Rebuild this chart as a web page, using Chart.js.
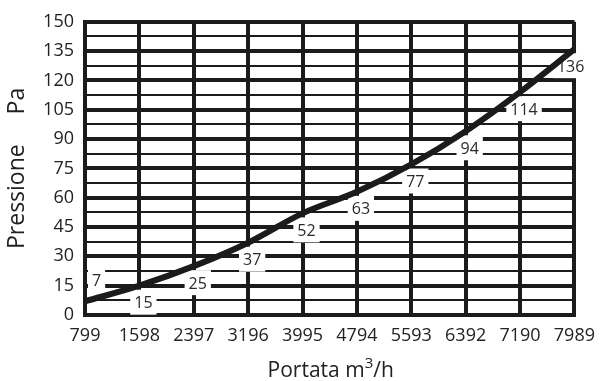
<!DOCTYPE html>
<html>
<head>
<meta charset="utf-8">
<script src="https://cdn.jsdelivr.net/npm/chart.js@4.4.1/dist/chart.umd.min.js"></script>
<style>
  html, body { margin: 0; padding: 0; background: #ffffff; }
  #wrap { width: 605px; height: 381px; position: relative; }
</style>
</head>
<body>
<div id="wrap"><canvas id="chart"></canvas></div>
<script>
// Flow rate categories (m3/h) and measured pressure (Pa)
const flowLabels = ['799', '1598', '2397', '3196', '3995', '4794', '5593', '6392', '7190', '7989'];
const pressureValues = [7, 15, 25, 37, 52, 63, 77, 94, 114, 136];
// Labelled pressure ticks; the half steps in between only get a thin grid line
const pressureTicks = [0, 15, 30, 45, 60, 75, 90, 105, 120, 135, 150];

const INK = '#1b1b1b';
const FONT = '"Open Sans", "Liberation Sans", sans-serif';

// White boxed value labels placed just below each point
const valueLabels = {
  id: 'valueLabels',
  beforeDatasetsDraw(chart) {
    const { ctx, chartArea } = chart;
    const meta = chart.getDatasetMeta(0);
    ctx.save();
    ctx.font = '16px ' + FONT;
    ctx.textAlign = 'center';
    ctx.textBaseline = 'middle';
    meta.data.forEach((pt, i) => {
      const text = String(pressureValues[i]);
      const w = ctx.measureText(text).width + 8;
      let cx = pt.x + 4;
      let cy = pt.y + 18;
      if (cy > chartArea.bottom - 8) cy = pt.y - 20;
      cx = Math.max(cx, chartArea.left + 3 + w / 2);
      cx = Math.min(cx, chartArea.right + 14 - w / 2);
      ctx.fillStyle = '#ffffff';
      ctx.fillRect(cx - w / 2, cy - 14, w, 25);
      ctx.fillStyle = '#2a2a2a';
      ctx.fillText(text, cx, cy);
    });
    ctx.restore();
  }
};

// X axis title with a raised exponent: "Portata m³/h"
const flowTitle = {
  id: 'flowTitle',
  afterDraw(chart) {
    const { ctx, chartArea } = chart;
    const parts = [
      { t: 'Portata m', size: 21, rise: 0 },
      { t: '3', size: 15, rise: 9 },
      { t: '/h', size: 21, rise: 0 }
    ];
    ctx.save();
    ctx.fillStyle = '#222222';
    ctx.textBaseline = 'alphabetic';
    ctx.textAlign = 'left';
    let total = 0;
    parts.forEach(p => { ctx.font = p.size + 'px ' + FONT; p.w = ctx.measureText(p.t).width; total += p.w; });
    let x = (chartArea.left + chartArea.right) / 2 + 1 - total / 2;
    const base = 376.5;
    parts.forEach(p => {
      ctx.font = p.size + 'px ' + FONT;
      ctx.fillText(p.t, x, base - p.rise);
      x += p.w;
    });
    ctx.restore();
  }
};

new Chart(document.getElementById('chart'), {
  type: 'line',
  data: {
    labels: flowLabels,
    datasets: [{
      data: pressureValues,
      borderColor: INK,
      borderWidth: 6,
      pointRadius: 0,
      pointHoverRadius: 0,
      cubicInterpolationMode: 'monotone',
      fill: false
    }]
  },
  options: {
    responsive: true,
    maintainAspectRatio: false,
    devicePixelRatio: 1,
    animation: false,
    events: [],
    layout: { padding: { left: 0, right: 21, top: 19, bottom: 0 } },
    plugins: {
      legend: { display: false },
      tooltip: { enabled: false }
    },
    scales: {
      x: {
        type: 'category',
        offset: false,
        afterFit(scale) { scale.height = 66; },
        grid: { color: INK, lineWidth: 4, drawTicks: false },
        border: { display: true, color: INK, width: 4 },
        ticks: {
          autoSkip: false,
          maxRotation: 0,
          padding: 10,
          color: '#222222',
          font: { family: FONT, size: 18 }
        },
        title: { display: false }
      },
      y: {
        min: 0,
        max: 150,
        afterFit(scale) { scale.width = 85; },
        grid: {
          color: INK,
          drawTicks: false,
          lineWidth: ctx => (ctx.tick && pressureTicks.includes(ctx.tick.value)) ? 4 : 2
        },
        border: { display: true, color: INK, width: 4 },
        ticks: {
          stepSize: 7.5,
          autoSkip: false,
          padding: 11,
          color: '#222222',
          font: { family: FONT, size: 18 },
          callback: v => pressureTicks.includes(v) ? String(v) : ''
        },
        title: {
          display: true,
          text: 'Pressione     Pa',
          color: '#222222',
          font: { family: FONT, size: 23 },
          padding: { top: 4, bottom: 0 }
        }
      }
    }
  },
  plugins: [valueLabels, flowTitle]
});
</script>
</body>
</html>
